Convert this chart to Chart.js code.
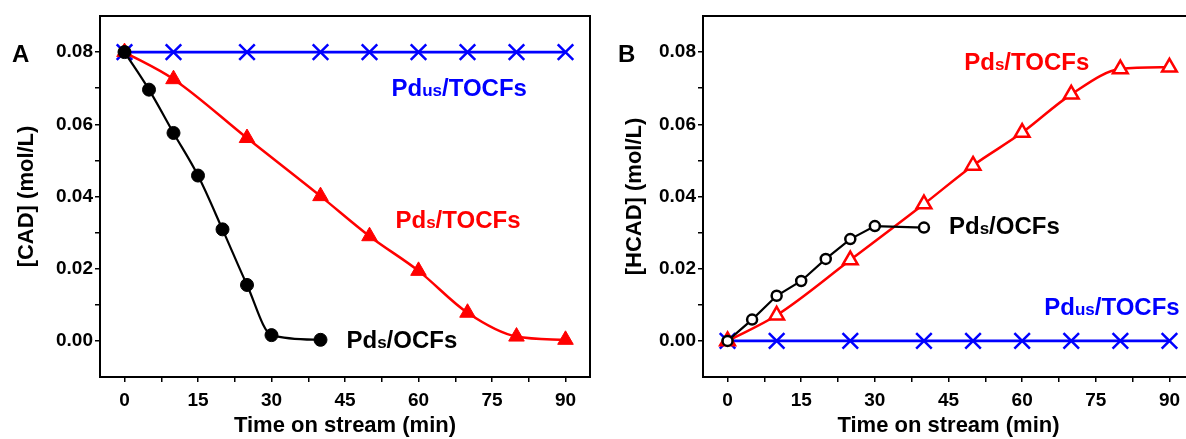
<!DOCTYPE html>
<html>
<head>
<meta charset="utf-8">
<script src="https://cdn.jsdelivr.net/npm/chart.js@4.4.1/dist/chart.umd.min.js"></script>
<style>
  html, body { margin: 0; padding: 0; background: #fff; overflow: hidden; }
  body { width: 1186px; height: 439px; position: relative; font-family: "Liberation Sans", Arial, sans-serif; }
  .panel { position: absolute; top: 0; height: 439px; }
  #boxA { left: 0; width: 592px; }
  #boxB { left: 596px; width: 600px; }
  .letter { position: absolute; font-weight: bold; font-size: 24px; line-height: 1; }
</style>
</head>
<body>
<div class="panel" id="boxA"><canvas id="chartA"></canvas></div>
<div class="panel" id="boxB"><canvas id="chartB"></canvas></div>
<div class="letter" style="left:12px; top:42px;">A</div>
<div class="letter" style="left:618px; top:42px;">B</div>
<script>
// ---------------------------------------------------------------- data
const timeFull = [0, 10, 25, 40, 50, 60, 70, 80, 90];
const timeOcf = [0, 5, 10, 15, 20, 25, 30, 40];

// panel A : [CAD]
const cadUs = [0.08, 0.08, 0.08, 0.08, 0.08, 0.08, 0.08, 0.08, 0.08];
const cadTocf = [0.08, 0.0725, 0.0562, 0.0401, 0.029, 0.0194, 0.0078, 0.0012, 0.0003];
const cadOcf = [0.08, 0.0696, 0.0576, 0.0458, 0.0309, 0.0155, 0.0016, 0.0003];

// panel B : [HCAD]
const hcadUs = [0, 0, 0, 0, 0, 0, 0, 0, 0];
const hcadTocf = [0, 0.0071, 0.0224, 0.0379, 0.0486, 0.0577, 0.0683, 0.0753, 0.0758];
const hcadOcf = [0, 0.0059, 0.0125, 0.0166, 0.0227, 0.0282, 0.0318, 0.0314];

// ticks
const xTickValues = [0, 7.5, 15, 22.5, 30, 37.5, 45, 52.5, 60, 67.5, 75, 82.5, 90];
const xTickLabels = ['0', '', '15', '', '30', '', '45', '', '60', '', '75', '', '90'];
const yTickValues = [0, 0.01, 0.02, 0.03, 0.04, 0.05, 0.06, 0.07, 0.08];
const yTickLabels = ['0.00', '', '0.02', '', '0.04', '', '0.06', '', '0.08'];

const BLUE = '#0000ff';
const RED = '#ff0000';
const BLACK = '#000000';
const FONT = '"Liberation Sans", Arial, sans-serif';

const pts = (xs, ys) => xs.map((x, i) => ({ x: x, y: ys[i] }));

// ---------------------------------------------------------------- plugins
const framePlugin = {
  id: 'frame',
  afterDatasetsDraw(chart) {
    const { ctx, chartArea: a } = chart;
    ctx.save();
    ctx.strokeStyle = '#000';
    ctx.lineWidth = 2;
    ctx.strokeRect(a.left, a.top, a.right - a.left, a.bottom - a.top);
    ctx.restore();
  }
};

// series names written next to the curves, "s"/"us" drawn smaller
const seriesLabelPlugin = {
  id: 'seriesLabels',
  afterDraw(chart, args, opts) {
    const { ctx, scales } = chart;
    ctx.save();
    ctx.textBaseline = 'alphabetic';
    ctx.textAlign = 'left';
    opts.items.forEach((item) => {
      let px = scales.x.getPixelForValue(item.x);
      const py = scales.y.getPixelForValue(item.y) + 8.5;
      ctx.fillStyle = item.color;
      item.parts.forEach((p) => {
        ctx.font = 'bold ' + (p.small ? 17 : 24) + 'px ' + FONT;
        ctx.fillText(p.t, px, py);
        px += ctx.measureText(p.t).width;
      });
    });
    ctx.restore();
  }
};

const nameUs = [{ t: 'Pd' }, { t: 'us', small: true }, { t: '/TOCFs' }];
const nameTocf = [{ t: 'Pd' }, { t: 's', small: true }, { t: '/TOCFs' }];
const nameOcf = [{ t: 'Pd' }, { t: 's', small: true }, { t: '/OCFs' }];

// ---------------------------------------------------------------- options
function makeOptions(yTitle, yWidth, titlePad, labels) {
  return {
    responsive: true,
    maintainAspectRatio: false,
    animation: false,
    layout: { autoPadding: false, padding: { top: 16, right: 2, left: 0, bottom: 0 } },
    plugins: {
      legend: { display: false },
      tooltip: { enabled: false },
      seriesLabels: { items: labels }
    },
    scales: {
      x: {
        type: 'linear',
        min: -5,
        max: 95,
        afterBuildTicks: (s) => { s.ticks = xTickValues.map((v) => ({ value: v })); },
        afterFit: (s) => { s.height = 62; s.paddingLeft = 0; s.paddingRight = 0; },
        border: { display: false },
        grid: { drawOnChartArea: false, drawTicks: true, tickLength: 5, color: '#000', lineWidth: 1.5 },
        ticks: {
          autoSkip: false,
          maxRotation: 0,
          padding: 7,
          color: '#000',
          font: { family: FONT, size: 19, weight: 'bold' },
          callback: (v, i) => xTickLabels[i]
        },
        title: {
          display: true,
          text: 'Time on stream (min)',
          color: '#000',
          font: { family: FONT, size: 22, weight: 'bold' },
          padding: { top: 0, bottom: 0 }
        }
      },
      y: {
        min: -0.01,
        max: 0.09,
        afterBuildTicks: (s) => { s.ticks = yTickValues.map((v) => ({ value: v })); },
        afterFit: (s) => { s.width = yWidth; },
        border: { display: false },
        grid: { drawOnChartArea: false, drawTicks: true, tickLength: 5, color: '#000', lineWidth: 1.5 },
        ticks: {
          autoSkip: false,
          padding: 2,
          color: '#000',
          font: { family: FONT, size: 19, weight: 'bold' },
          callback: (v, i) => yTickLabels[i]
        },
        title: {
          display: true,
          text: yTitle,
          color: '#000',
          font: { family: FONT, size: 22, weight: 'bold' },
          padding: { top: titlePad, bottom: 0 }
        }
      }
    }
  };
}

// ---------------------------------------------------------------- panel A
new Chart(document.getElementById('chartA'), {
  type: 'line',
  data: {
    datasets: [
      {
        data: pts(timeOcf, cadOcf),
        borderColor: BLACK, backgroundColor: BLACK, borderWidth: 2.2,
        tension: 0.4, cubicInterpolationMode: 'monotone',
        pointStyle: 'circle', pointRadius: 6.5, pointBorderWidth: 1
      },
      {
        data: pts(timeFull, cadTocf),
        borderColor: RED, backgroundColor: RED, borderWidth: 2.5,
        tension: 0.4, cubicInterpolationMode: 'monotone',
        pointStyle: 'triangle', pointRadius: 9, pointBorderWidth: 1
      },
      {
        data: pts(timeFull, cadUs),
        borderColor: BLUE, backgroundColor: BLUE, borderWidth: 2.7,
        tension: 0,
        pointStyle: 'crossRot', pointRadius: 11, pointBorderWidth: 2.5
      }
    ]
  },
  options: makeOptions('[CAD] (mol/L)', 100, 14, [
    { x: 54.5, y: 0.0702, color: BLUE, parts: nameUs },
    { x: 55.3, y: 0.0336, color: RED, parts: nameTocf },
    { x: 45.3, y: 0.0004, color: BLACK, parts: nameOcf }
  ]),
  plugins: [framePlugin, seriesLabelPlugin]
});

// ---------------------------------------------------------------- panel B
new Chart(document.getElementById('chartB'), {
  type: 'line',
  data: {
    datasets: [
      {
        data: pts(timeOcf, hcadOcf),
        borderColor: BLACK, backgroundColor: '#fff', borderWidth: 2.2,
        tension: 0,
        pointStyle: 'circle', pointRadius: 5, pointBorderWidth: 2.5
      },
      {
        data: pts(timeFull, hcadTocf),
        borderColor: RED, backgroundColor: '#fff', borderWidth: 2.5,
        tension: 0.4, cubicInterpolationMode: 'monotone',
        pointStyle: 'triangle', pointRadius: 8.5, pointBorderWidth: 2.5
      },
      {
        data: pts(timeFull, hcadUs),
        borderColor: BLUE, backgroundColor: BLUE, borderWidth: 2.7,
        tension: 0,
        pointStyle: 'crossRot', pointRadius: 11, pointBorderWidth: 2.5
      }
    ]
  },
  options: makeOptions('[HCAD] (mol/L)', 107, 26, [
    { x: 48.2, y: 0.0774, color: RED, parts: nameTocf },
    { x: 45.1, y: 0.032, color: BLACK, parts: nameOcf },
    { x: 64.5, y: 0.0096, color: BLUE, parts: nameUs }
  ]),
  plugins: [framePlugin, seriesLabelPlugin]
});
</script>
</body>
</html>
